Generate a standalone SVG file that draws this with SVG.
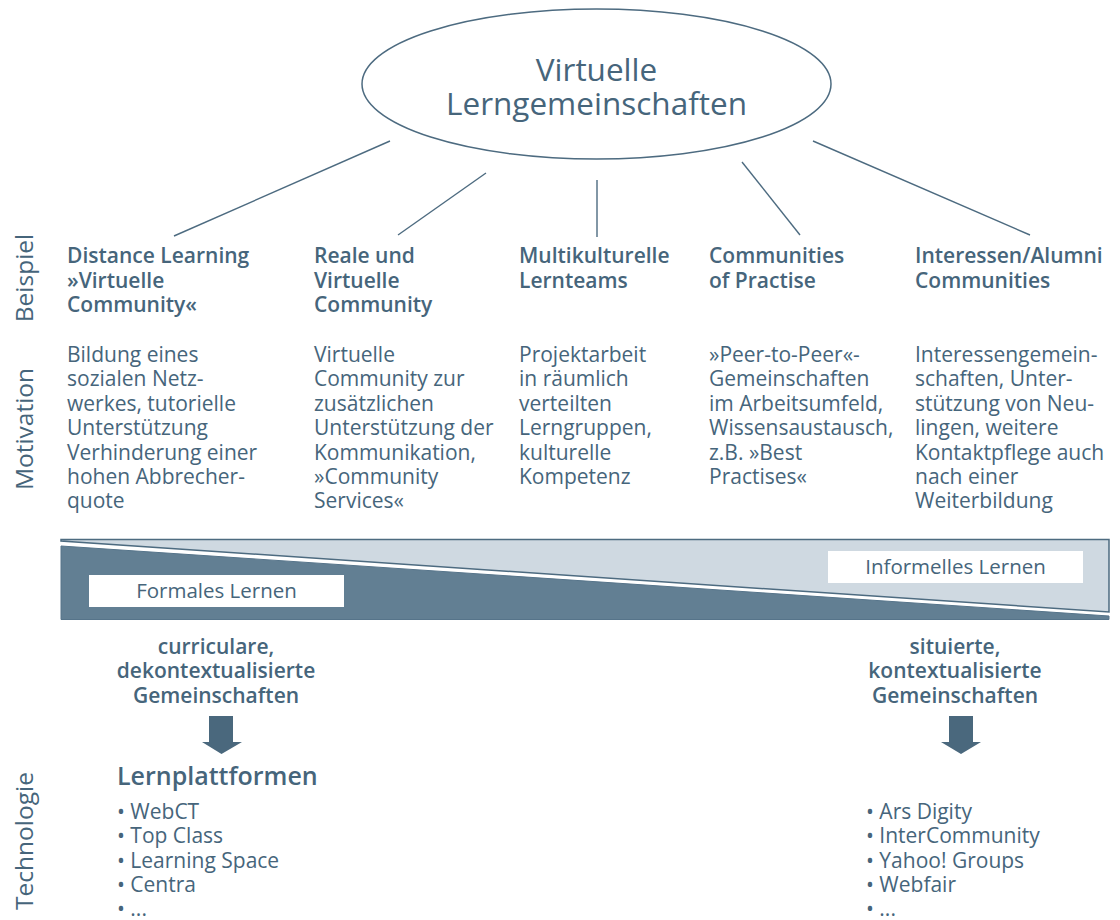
<svg xmlns="http://www.w3.org/2000/svg" width="1120" height="920" viewBox="0 0 1120 920">
  <style>
    text { font-family: "Open Sans", "Noto Sans", "Liberation Sans", sans-serif; fill: #46657b; }
    .title { font-size: 31.5px; text-anchor: middle; }
    .head { font-size: 21px; font-weight: 600; }
    .body { font-size: 21px; }
    .side { font-size: 24.5px; text-anchor: middle; }
    .lbl { font-size: 20.5px; text-anchor: middle; }
    .sub { font-size: 21px; font-weight: 600; text-anchor: middle; }
    .plat { font-size: 25px; font-weight: 600; }
    .conn { stroke: #4d6b80; stroke-width: 1.4; fill: none; }
    .barrow { fill: #4a687d; }
  </style>
  <rect width="1120" height="920" fill="#ffffff"/>

  <g id="title">
    <ellipse cx="596.5" cy="84" rx="234.5" ry="75" fill="#ffffff" stroke="#4d6b80" stroke-width="1.5"/>
    <text class="title" x="596.5" y="81">Virtuelle<tspan x="596.5" dy="34">Lerngemeinschaften</tspan></text>
  </g>

  <g id="connectors">
    <line class="conn" x1="390" y1="141" x2="174" y2="236"/>
    <line class="conn" x1="486" y1="173" x2="398" y2="235"/>
    <line class="conn" x1="597" y1="180" x2="597" y2="237"/>
    <line class="conn" x1="742" y1="162" x2="800" y2="235"/>
    <line class="conn" x1="813" y1="141" x2="1030" y2="235"/>
    <polygon class="barrow" points="209,716 233,716 233,742 242,742 221.5,754 202,742 209,742"/>
    <polygon class="barrow" points="949,716 973,716 973,742 981,742 961,754 941,742 949,742"/>
  </g>

  <g id="side-labels">
    <text class="side" transform="translate(33,278) rotate(-90)">Beispiel</text>
    <text class="side" transform="translate(33,429) rotate(-90)">Motivation</text>
    <text class="side" transform="translate(33,841) rotate(-90)">Technologie</text>
  </g>

  <g id="col1">
    <text class="head" x="67" y="263">Distance Learning<tspan x="67" dy="24.5">»Virtuelle</tspan><tspan x="67" dy="24.5">Community«</tspan></text>
    <text class="body" x="67" y="362">Bildung eines<tspan x="67" dy="24.4">sozialen Netz-</tspan><tspan x="67" dy="24.4">werkes, tutorielle</tspan><tspan x="67" dy="24.4">Unterstützung</tspan><tspan x="67" dy="24.4">Verhinderung einer</tspan><tspan x="67" dy="24.4">hohen Abbrecher-</tspan><tspan x="67" dy="24.4">quote</tspan></text>
  </g>

  <g id="col2">
    <text class="head" x="314" y="263">Reale und<tspan x="314" dy="24.5">Virtuelle</tspan><tspan x="314" dy="24.5">Community</tspan></text>
    <text class="body" x="314" y="362">Virtuelle<tspan x="314" dy="24.4">Community zur</tspan><tspan x="314" dy="24.4">zusätzlichen</tspan><tspan x="314" dy="24.4">Unterstützung der</tspan><tspan x="314" dy="24.4">Kommunikation,</tspan><tspan x="314" dy="24.4">»Community</tspan><tspan x="314" dy="24.4">Services«</tspan></text>
  </g>

  <g id="col3">
    <text class="head" x="519" y="263">Multikulturelle<tspan x="519" dy="24.5">Lernteams</tspan></text>
    <text class="body" x="519" y="362">Projektarbeit<tspan x="519" dy="24.4">in räumlich</tspan><tspan x="519" dy="24.4">verteilten</tspan><tspan x="519" dy="24.4">Lerngruppen,</tspan><tspan x="519" dy="24.4">kulturelle</tspan><tspan x="519" dy="24.4">Kompetenz</tspan></text>
  </g>

  <g id="col4">
    <text class="head" x="709" y="263">Communities<tspan x="709" dy="24.5">of Practise</tspan></text>
    <text class="body" x="709" y="362">»Peer-to-Peer«-<tspan x="709" dy="24.4">Gemeinschaften</tspan><tspan x="709" dy="24.4">im Arbeitsumfeld,</tspan><tspan x="709" dy="24.4">Wissensaustausch,</tspan><tspan x="709" dy="24.4">z.B. »Best</tspan><tspan x="709" dy="24.4">Practises«</tspan></text>
  </g>

  <g id="col5">
    <text class="head" x="915" y="263">Interessen/Alumni<tspan x="915" dy="24.5">Communities</tspan></text>
    <text class="body" x="915" y="362">Interessengemein-<tspan x="915" dy="24.4">schaften, Unter-</tspan><tspan x="915" dy="24.4">stützung von Neu-</tspan><tspan x="915" dy="24.4">lingen, weitere</tspan><tspan x="915" dy="24.4">Kontaktpflege auch</tspan><tspan x="915" dy="24.4">nach einer</tspan><tspan x="915" dy="24.4">Weiterbildung</tspan></text>
  </g>

  <g id="learning-wedge">
    <polygon points="61,539.5 1109,539.5 1109,612 61,541" fill="#cfd9e1" stroke="#4d6b80" stroke-width="1.5" stroke-linejoin="miter"/>
    <polygon points="61,546 1109,616 1109,619.5 61,619.5" fill="#627f93" stroke="#56748a" stroke-width="1"/>
    <g id="formal">
      <rect x="89" y="575" width="255" height="32" fill="#ffffff"/>
      <text class="lbl" x="216.5" y="597.5">Formales Lernen</text>
    </g>
    <g id="informal">
      <rect x="828" y="551" width="255" height="32" fill="#ffffff"/>
      <text class="lbl" x="955.5" y="573.5">Informelles Lernen</text>
    </g>
  </g>

  <g id="formal-communities">
    <text class="sub" x="216" y="654">curriculare,<tspan x="216" dy="24.4">dekontextualisierte</tspan><tspan x="216" dy="24.4">Gemeinschaften</tspan></text>
  </g>

  <g id="situated-communities">
    <text class="sub" x="955" y="654">situierte,<tspan x="955" dy="24.4">kontextualisierte</tspan><tspan x="955" dy="24.4">Gemeinschaften</tspan></text>
  </g>

  <g id="lernplattformen">
    <text class="plat" x="117" y="785">Lernplattformen</text>
    <text class="body" x="117" y="819">• WebCT<tspan x="117" dy="24.4">• Top Class</tspan><tspan x="117" dy="24.4">• Learning Space</tspan><tspan x="117" dy="24.4">• Centra</tspan><tspan x="117" dy="23.5">• ...</tspan></text>
  </g>

  <g id="community-tools">
    <text class="body" x="866" y="819">• Ars Digity<tspan x="866" dy="24.4">• InterCommunity</tspan><tspan x="866" dy="24.4">• Yahoo! Groups</tspan><tspan x="866" dy="24.4">• Webfair</tspan><tspan x="866" dy="23.5">• ...</tspan></text>
  </g>
</svg>
